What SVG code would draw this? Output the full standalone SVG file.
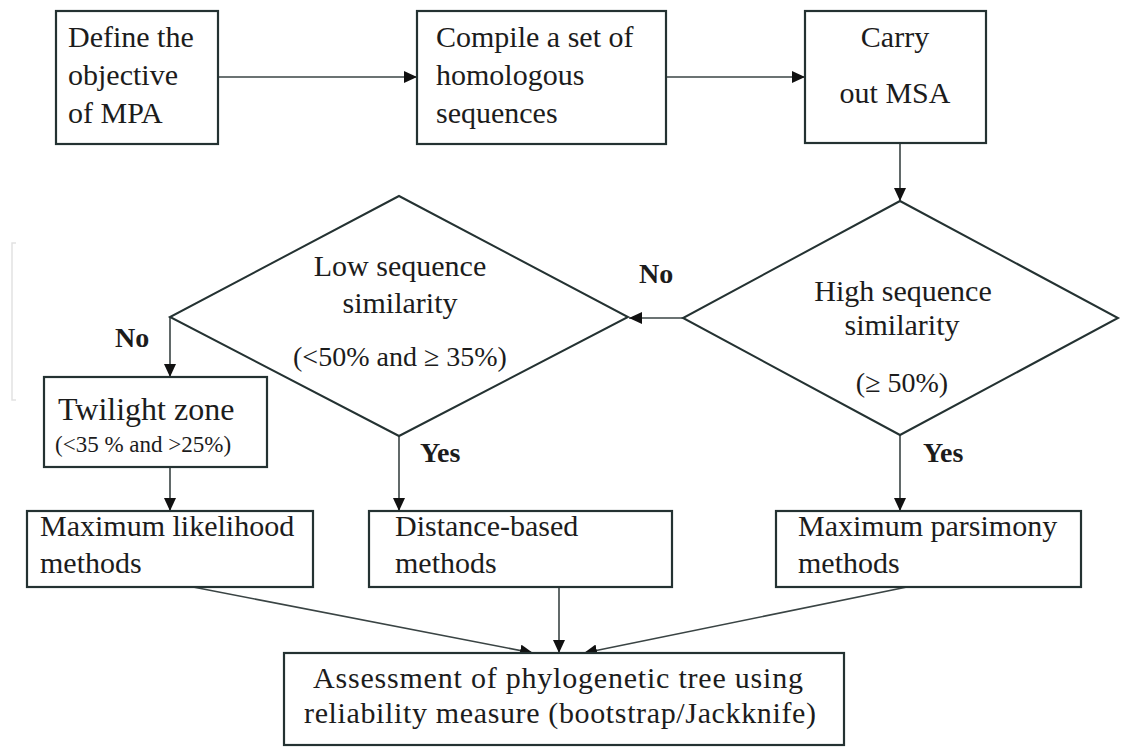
<svg xmlns="http://www.w3.org/2000/svg" width="1135" height="747" viewBox="0 0 1135 747">
<style>
.box{fill:#fff;stroke:#243232;stroke-width:2.2}
.dia{fill:none;stroke:#243232;stroke-width:2}
.con{fill:none;stroke:#3a4444;stroke-width:1.6}
.t{font-family:"Liberation Serif","Times New Roman",serif;font-size:30px;fill:#1c1c1c}
.c{text-anchor:middle}
.b{font-weight:bold;font-size:28px}
</style>
<defs>
<marker id="ah" markerUnits="userSpaceOnUse" markerWidth="14" markerHeight="12" refX="13" refY="6" orient="auto">
<path d="M0,0 L13,6 L0,12 z" fill="#111"/>
</marker>
</defs>
<rect width="1135" height="747" fill="#fff"/>
<path d="M16,243 L12,243 L12,400 L16,400" fill="none" stroke="#e2e2e2" stroke-width="1.5"/>

<g id="connectors">
<line class="con" x1="218" y1="77" x2="417" y2="77" marker-end="url(#ah)"/>
<line class="con" x1="666" y1="77" x2="805" y2="77" marker-end="url(#ah)"/>
<line class="con" x1="900" y1="143" x2="900" y2="201" marker-end="url(#ah)"/>
<line class="con" x1="683" y1="318" x2="629" y2="318" marker-end="url(#ah)"/>
<line class="con" x1="170" y1="317" x2="170" y2="377" marker-end="url(#ah)"/>
<line class="con" x1="399" y1="436" x2="399" y2="511" marker-end="url(#ah)"/>
<line class="con" x1="900" y1="435" x2="900" y2="511" marker-end="url(#ah)"/>
<line class="con" x1="170" y1="467" x2="170" y2="511" marker-end="url(#ah)"/>
<line class="con" x1="193" y1="587" x2="533" y2="653" marker-end="url(#ah)"/>
<line class="con" x1="559" y1="587" x2="559" y2="653" marker-end="url(#ah)"/>
<line class="con" x1="907" y1="587" x2="584" y2="653" marker-end="url(#ah)"/>
<text class="t b" x="639" y="283">No</text>
<text class="t b" x="115" y="347">No</text>
<text class="t b" x="420" y="462">Yes</text>
<text class="t b" x="923" y="462">Yes</text>
</g>

<g id="define">
<rect class="box" x="56" y="11" width="162" height="133"/>
<text class="t" x="68" y="47">Define the</text>
<text class="t" x="68" y="85">objective</text>
<text class="t" x="68" y="123">of MPA</text>
</g>

<g id="compile">
<rect class="box" x="417" y="11" width="249" height="133"/>
<text class="t" x="436" y="47">Compile a set of</text>
<text class="t" x="436" y="85">homologous</text>
<text class="t" x="436" y="123">sequences</text>
</g>

<g id="msa">
<rect class="box" x="805" y="11" width="181" height="132"/>
<text class="t c" x="895" y="47">Carry</text>
<text class="t c" x="895" y="103">out MSA</text>
</g>

<g id="high">
<polygon class="dia" points="900,201 1118,318 900,435 683,318"/>
<text class="t c" x="903" y="301">High sequence</text>
<text class="t c" x="902" y="335">similarity</text>
<text class="t c" x="902" y="392" style="font-size:28px">(≥ 50%)</text>
</g>

<g id="low">
<polygon class="dia" points="399,196 628,317 399,436 170,317"/>
<text class="t c" x="400" y="276">Low sequence</text>
<text class="t c" x="400" y="313">similarity</text>
<text class="t c" x="400" y="366" style="font-size:28px">(&lt;50% and ≥ 35%)</text>
</g>

<g id="twilight">
<rect class="box" x="44" y="377" width="223" height="90"/>
<text class="t" x="58" y="420" style="font-size:32px">Twilight zone</text>
<text class="t" x="55" y="452" style="font-size:23px">(&lt;35 % and &gt;25%)</text>
</g>

<g id="ml">
<rect class="box" x="27" y="511" width="286" height="76"/>
<text class="t" x="40" y="536">Maximum likelihood</text>
<text class="t" x="40" y="573">methods</text>
</g>

<g id="distance">
<rect class="box" x="369" y="511" width="303" height="76"/>
<text class="t" x="395" y="536">Distance-based</text>
<text class="t" x="395" y="573">methods</text>
</g>

<g id="mp">
<rect class="box" x="776" y="511" width="305" height="76"/>
<text class="t" x="798" y="536">Maximum parsimony</text>
<text class="t" x="798" y="573">methods</text>
</g>

<g id="assessment">
<rect class="box" x="284" y="653" width="560" height="92"/>
<text class="t c" x="558" y="688" textLength="490">Assessment of phylogenetic tree using</text>
<text class="t c" x="560" y="723" textLength="512">reliability measure (bootstrap/Jackknife)</text>
</g>
</svg>
